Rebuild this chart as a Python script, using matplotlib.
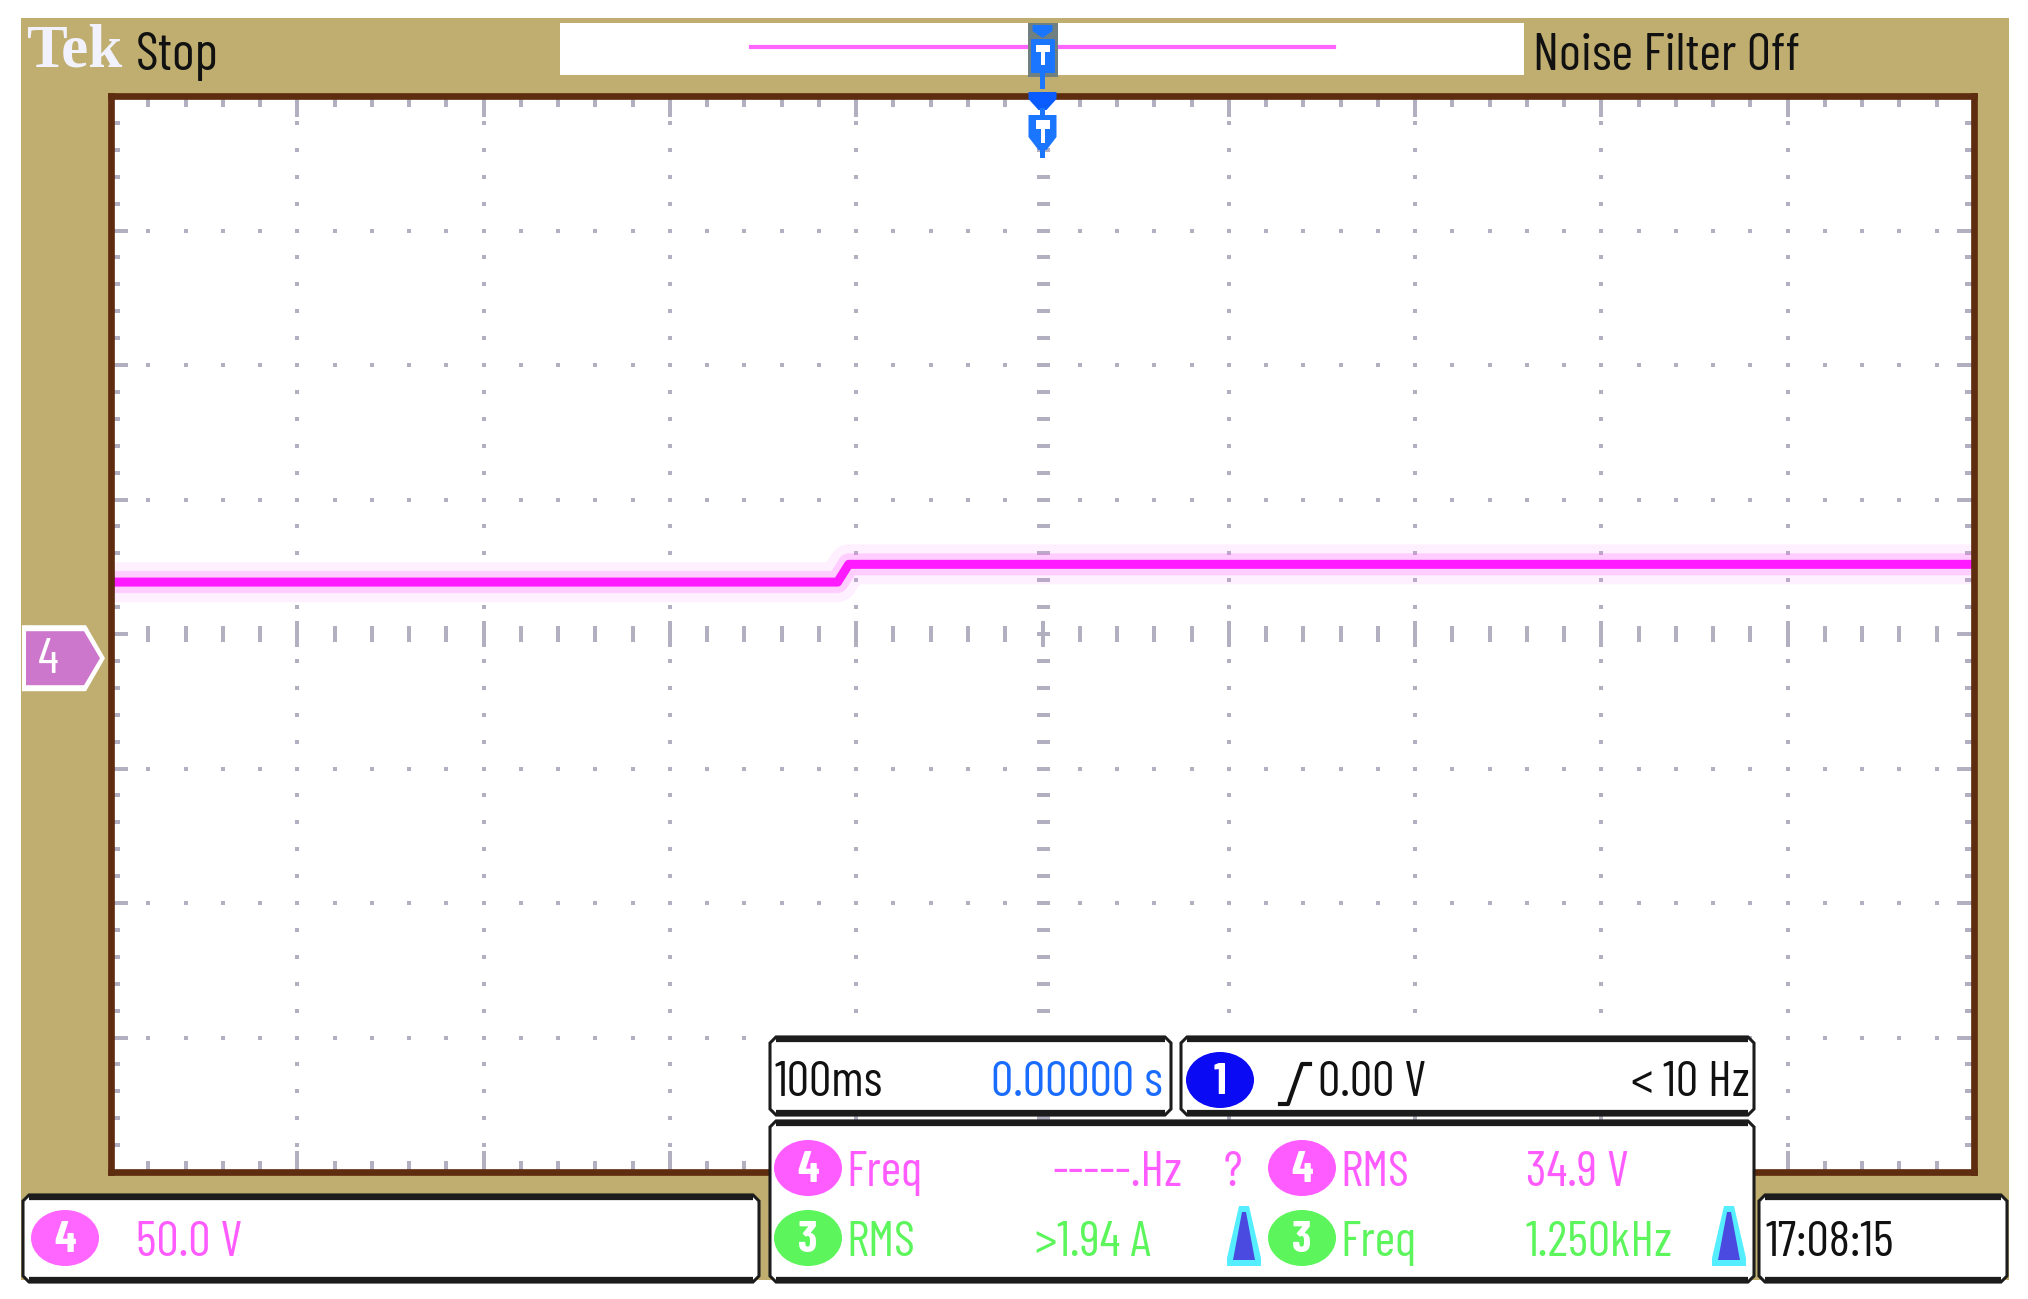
import numpy as np
import matplotlib
matplotlib.use("Agg")
import matplotlib.pyplot as plt
from matplotlib.patches import Rectangle, Ellipse, Polygon

W, H = 2028, 1299

# scope settings
TIME_PER_DIV_MS = 100.0
CH4_VOLTS_PER_DIV = 50.0
CH4_OFFSET_DIV = -0.18          # ch4 ground marker, divisions below centre
TRIG_POS_MS = 0.0

# ch4 trace (ms, V)
trace_t = [-500, -110, -104, 500]
trace_v = [28.3, 28.3, 34.9, 34.9]

# readouts
status_text = "Stop"
filter_text = "Noise Filter Off"
timebase_text = "100ms"
delay_text = "0.00000 s"
trig_level_text = "0.00 V"
trig_freq_text = "< 10 Hz"
ch4_scale_text = "50.0 V"
clock_text = "17:08:15"
meas_row1 = [("4", "Freq", "-----.Hz"), ("4", "RMS", "34.9 V")]
meas_row2 = [("3", "RMS", ">1.94 A"), ("3", "Freq", "1.250kHz")]

TAN = "#c0ae70"
BROWN = "#5e2c0e"
GRID = "#b1afc0"
MAG = "#ff5cff"
GRN = "#5cf55c"
NARROW = ["Barlow Condensed", "DejaVu Sans"]
DY = 5  # text baseline nudge, px

fig = plt.figure(figsize=(W / 100, H / 100), dpi=100, facecolor="white")

# background layer (pixel coords)
bg = fig.add_axes([0, 0, 1, 1], zorder=0)
bg.set_xlim(0, W); bg.set_ylim(H, 0); bg.axis("off")
bg.add_patch(Rectangle((21, 18), 2009 - 21, 1280 - 18, fc=TAN, ec="none"))
bg.add_patch(Rectangle((560, 23), 1524 - 560, 75 - 23, fc="white", ec="none"))
bg.plot([751, 1334], [47, 47], color="#ff66ff", lw=3)

# plot area
L, R, T, B = 111, 1974, 96, 1172
ax = fig.add_axes([L / W, 1 - B / H, (R - L) / W, (B - T) / H], zorder=1)
ax.set_xlim(-5, 5); ax.set_ylim(-4, 4)
ax.set_xticks([]); ax.set_yticks([])
for s in ax.spines.values():
    s.set_color(BROWN); s.set_linewidth(4.8)

px = 0.72  # px -> pt
xs = np.round(np.arange(-5, 5.001, 0.2), 3)
ys = np.round(np.arange(-4, 4.001, 0.2), 3)
for gx in range(-4, 5):
    if gx != 0:
        ax.plot(np.full_like(ys, gx), ys, ls="none", marker="s", ms=3.8 * px, mew=0, color=GRID)
for gy in range(-3, 4):
    if gy != 0:
        ax.plot(xs, np.full_like(xs, gy), ls="none", marker="s", ms=3.8 * px, mew=0, color=GRID)
major_x = np.isclose(xs, np.round(xs))
major_y = np.isclose(ys, np.round(ys))
# centre cross
ax.plot(xs[~major_x], np.zeros((~major_x).sum()), ls="none", marker="|", ms=16 * px, mew=4 * px, color=GRID)
ax.plot(xs[major_x], np.zeros(major_x.sum()), ls="none", marker="|", ms=27 * px, mew=4 * px, color=GRID)
ax.plot(np.zeros_like(ys), ys, ls="none", marker="_", ms=13 * px, mew=4 * px, color=GRID)
# edge ticks
for e in (-4, 4):
    ax.plot(xs[~major_x], np.full((~major_x).sum(), e), ls="none", marker="|", ms=22 * px, mew=4 * px, color=GRID)
    ax.plot(xs[major_x], np.full(major_x.sum(), e), ls="none", marker="|", ms=42 * px, mew=4 * px, color=GRID)
for e in (-5, 5):
    ax.plot(np.full((~major_y).sum(), e), ys[~major_y], ls="none", marker="_", ms=18 * px, mew=4 * px, color=GRID)
    ax.plot(np.full(major_y.sum(), e), ys[major_y], ls="none", marker="_", ms=34 * px, mew=4 * px, color=GRID)

# ch4 trace, core plus soft persistence halo
tx = np.array(trace_t) / TIME_PER_DIV_MS
ty = np.array(trace_v) / CH4_VOLTS_PER_DIV + CH4_OFFSET_DIV
ax.plot(tx, ty, color="#ff88ff", lw=40 * px, alpha=0.12, solid_capstyle="butt")
ax.plot(tx, ty, color="#ff66ff", lw=22 * px, alpha=0.25, solid_capstyle="butt")
ax.plot(tx, ty, color="#ff1aff", lw=9 * px, solid_capstyle="butt")

# overlay layer (pixel coords)
ov = fig.add_axes([0, 0, 1, 1], zorder=2)
ov.set_xlim(0, W); ov.set_ylim(H, 0); ov.axis("off"); ov.patch.set_alpha(0)


def to_px(x_div, y_div):
    dx, dy = ax.transData.transform((x_div, y_div))
    return dx, H - dy


def box(x0, y0, x1, y1, c=6):
    pts = [(x0 + c, y0), (x1 - c, y0), (x1, y0 + c), (x1, y1 - c),
           (x1 - c, y1), (x0 + c, y1), (x0, y1 - c), (x0, y0 + c)]
    ov.add_patch(Polygon(pts, closed=True, fc="white", ec="#1c1c1c", lw=2.2))
    ov.plot([x0 + c, x1 - c], [y0 + 2, y0 + 2], color="#1c1c1c", lw=4.5, solid_capstyle="butt")
    ov.plot([x0 + c, x1 - c], [y1 - 2, y1 - 2], color="#1c1c1c", lw=4.5, solid_capstyle="butt")


def txt(x, y, s, color="#111111", size=36, ha="left"):
    ov.text(x, y + DY, s, color=color, fontsize=size, ha=ha, va="center", family=NARROW)


def badge(cx, cy, num, color):
    ov.add_patch(Ellipse((cx, cy), 68, 56, fc=color, ec="none"))
    ov.text(cx, cy + 2, num, color="white", fontsize=32, ha="center", va="center",
            family=NARROW, weight="bold")


# header
ov.text(26, 51, "Tek", color="#f2f2ff", fontsize=44, ha="left", va="center",
        family=["Liberation Serif", "DejaVu Serif"], weight="bold")
txt(136, 51, status_text, size=39)
txt(1533, 51, filter_text, size=38)

# trigger position marker
cx, _ = to_px(TRIG_POS_MS / TIME_PER_DIV_MS, 0)
ov.add_patch(Rectangle((cx - 15, 23), 30, 54, fc="#708080", ec="none"))
TB = "#1a75ff"
ov.add_patch(Polygon([(cx - 10, 25), (cx + 10, 25), (cx + 10, 31), (cx, 38), (cx - 10, 31)], fc=TB, ec="none"))
ov.add_patch(Rectangle((cx - 12, 39), 24, 34, fc=TB, ec="none"))
ov.add_patch(Rectangle((cx - 7, 45), 14, 7, fc="white", ec="none"))
ov.add_patch(Rectangle((cx - 2, 52), 4, 13, fc="white", ec="none"))
ov.add_patch(Rectangle((cx - 2.5, 73), 5, 16, fc=TB, ec="none"))
ov.add_patch(Polygon([(cx - 14, 92), (cx + 14, 92), (cx + 14, 99), (cx + 4, 110), (cx - 4, 110), (cx - 14, 99)], fc="#0a5cff", ec="none"))
ov.add_patch(Rectangle((cx - 2.5, 108), 5, 8, fc=TB, ec="none"))
ov.add_patch(Polygon([(cx - 14, 115), (cx + 14, 115), (cx + 14, 137), (cx + 4, 150), (cx - 4, 150), (cx - 14, 137)], fc=TB, ec="none"))
ov.add_patch(Rectangle((cx - 7, 120), 14, 9, fc="white", ec="none"))
ov.add_patch(Rectangle((cx - 2, 129), 4, 14, fc="white", ec="none"))
ov.add_patch(Rectangle((cx - 2.5, 148), 5, 10, fc=TB, ec="none"))

# ch4 ground marker
_, gy = to_px(0, CH4_OFFSET_DIV)
ov.add_patch(Polygon([(22, gy - 33), (86, gy - 33), (105, gy), (86, gy + 33), (22, gy + 33)], fc="white", ec="none"))
ov.add_patch(Polygon([(26, gy - 27), (84, gy - 27), (100, gy), (84, gy + 27), (26, gy + 27)], fc="#cc77cc", ec="none"))
ov.text(48, gy + 2, "4", color="white", fontsize=36, ha="center", va="center", family=NARROW)

# bottom readout boxes
box(770, 1037, 1171, 1115)
box(1181, 1037, 1754, 1115)
box(770, 1121, 1754, 1282)
box(23, 1195, 759, 1282)
box(1759, 1195, 2007, 1282)

txt(775, 1078, timebase_text)
txt(1163, 1078, delay_text, color="#1a6cff", ha="right")
ov.add_patch(Ellipse((1220, 1080), 68, 56, fc="#0a0af5", ec="none"))
ov.text(1220, 1082, "1", color="white", fontsize=32, ha="center", va="center", family=NARROW, weight="bold")
ov.plot([1280, 1288, 1302, 1310], [1104, 1104, 1064, 1064], color="#111111", lw=3)
txt(1318, 1078, trig_level_text)
txt(1750, 1078, trig_freq_text, ha="right")

# measurements
row_y = [1168, 1238]
col_badge = [808, 1302]
col_name = [846, 1340]
col_val = [(1182, "right"), (1526, "left")]
for yy, row, color in ((row_y[0], meas_row1, MAG), (row_y[1], meas_row2, GRN)):
    for i, (ch, name, val) in enumerate(row):
        badge(col_badge[i], yy, ch, color)
        txt(col_name[i], yy, name, color=color)
        vx, vha = col_val[i]
        if i == 0 and row is meas_row2:
            vx, vha = 1035, "left"
        txt(vx, yy, val, color=color, ha=vha)
txt(1233, row_y[0], "?", color=MAG, ha="center")
for tcx in (1244, 1729):
    ov.add_patch(Polygon([(tcx - 17, 1266), (tcx + 17, 1266), (tcx + 17, 1258), (tcx + 5, 1206),
                          (tcx - 5, 1206), (tcx - 17, 1258)], fc="#55eeff", ec="none"))
    ov.add_patch(Polygon([(tcx - 11, 1260), (tcx + 11, 1260), (tcx + 2, 1212), (tcx - 2, 1212)],
                         fc="#4a4ae0", ec="none"))

badge(65, 1238, "4", "#ff66ff")
txt(136, 1238, ch4_scale_text, color=MAG)
txt(1766, 1238, clock_text)

fig.savefig("out.png", dpi=100, facecolor="white")
